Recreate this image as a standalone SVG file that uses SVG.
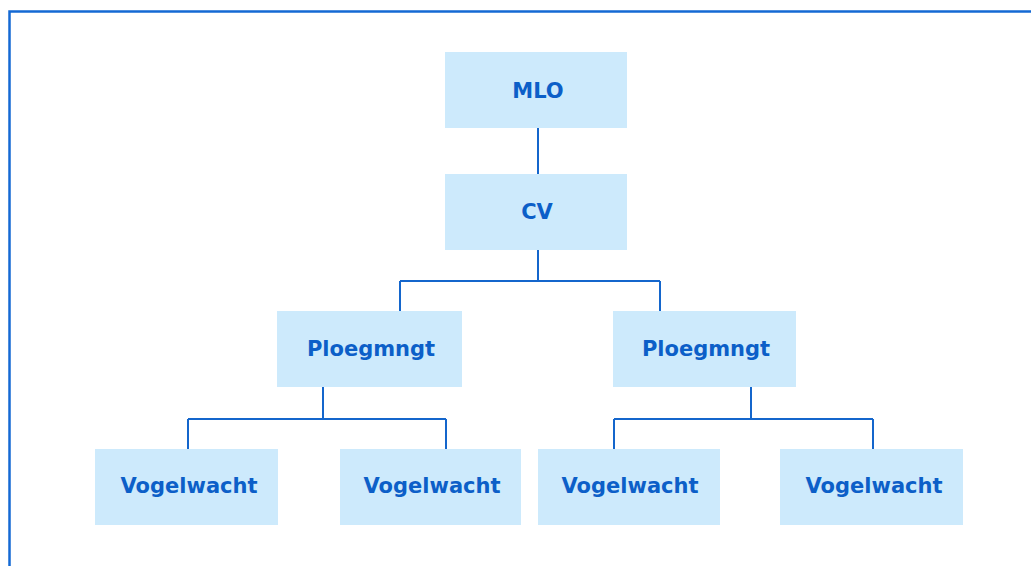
<svg xmlns="http://www.w3.org/2000/svg" width="1031" height="566" viewBox="0 0 1031 566">
<style>
.box{fill:#cdeafc;}
.lbl{font-family:"DejaVu Sans",Verdana,sans-serif;font-weight:bold;font-size:21px;fill:#0c5fc8;text-anchor:middle;}
.con{fill:none;stroke:#1466cc;stroke-width:2;}
</style>
<rect x="0" y="0" width="1031" height="566" fill="#ffffff"/>
<path d="M9.5,566 V11.5 H1031" fill="none" stroke="#1469d4" stroke-width="2.5"/>
<g id="connectors">
<path class="con" d="M538,128 V174"/>
<path class="con" d="M538,250 V281 M400,281 H660 M400,281 V311 M660,281 V311"/>
<path class="con" d="M323,387 V419 M188,419 H446 M188,419 V449 M446,419 V449"/>
<path class="con" d="M751,387 V419 M614,419 H873 M614,419 V449 M873,419 V449"/>
</g>
<g id="mlo"><rect class="box" x="445" y="52" width="182" height="76"/><text class="lbl" x="538" y="98">MLO</text></g>
<g id="cv"><rect class="box" x="445" y="174" width="182" height="76"/><text class="lbl" x="537" y="219">CV</text></g>
<g id="ploeg1"><rect class="box" x="277" y="311" width="185" height="76"/><text class="lbl" x="371" y="356">Ploegmngt</text></g>
<g id="ploeg2"><rect class="box" x="613" y="311" width="183" height="76"/><text class="lbl" x="706" y="356">Ploegmngt</text></g>
<g id="vogel1"><rect class="box" x="95" y="449" width="183" height="76"/><text class="lbl" x="189" y="493">Vogelwacht</text></g>
<g id="vogel2"><rect class="box" x="340" y="449" width="181" height="76"/><text class="lbl" x="432" y="493">Vogelwacht</text></g>
<g id="vogel3"><rect class="box" x="538" y="449" width="182" height="76"/><text class="lbl" x="630" y="493">Vogelwacht</text></g>
<g id="vogel4"><rect class="box" x="780" y="449" width="183" height="76"/><text class="lbl" x="874" y="493">Vogelwacht</text></g>
</svg>
